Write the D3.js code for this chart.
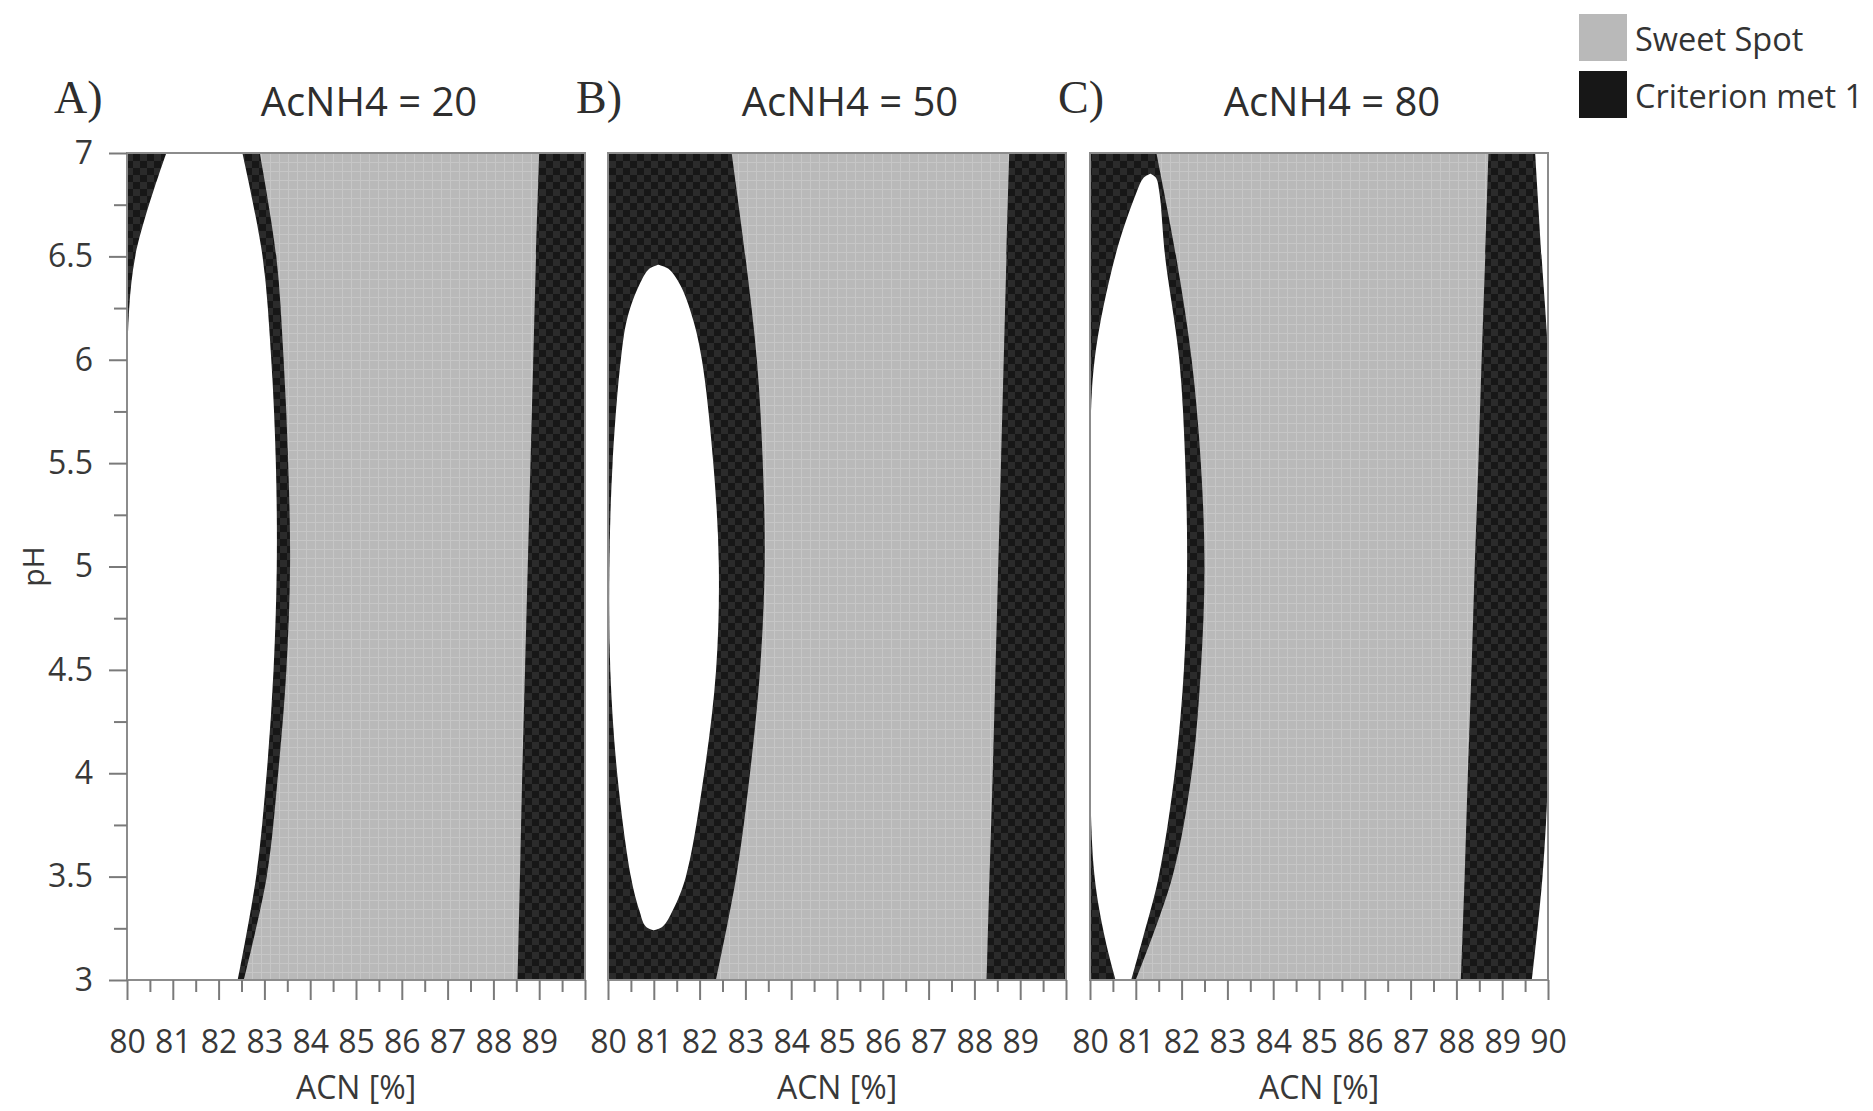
<!DOCTYPE html>
<html>
<head>
<meta charset="utf-8">
<script src="https://cdn.jsdelivr.net/npm/d3@7"></script>
<style>
  body { margin: 0; background: #fff; }
  svg { display: block; }
  .tick text { font-family: "Open Sans", sans-serif; fill: #383838; }
</style>
</head>
<body>
<svg id="chart" width="1873" height="1111"></svg>
<script>
// pH knots used for the band edges (top to bottom)
const phKnots = [7, 6.5, 6, 5.5, 5, 4.5, 4, 3.5, 3];

// Panel A (AcNH4 = 20)
const whiteLoA = [80.86, 80.18, 80, 80, 80, 80, 80, 80, 80];
const whiteHiA = [82.52, 82.96, 83.15, 83.25, 83.27, 83.2, 83.05, 82.82, 82.42];
const sweetLoA = [82.9, 83.26, 83.42, 83.52, 83.56, 83.48, 83.3, 83.05, 82.55];
const sweetHiA = [89.0, 88.93, 88.87, 88.81, 88.75, 88.69, 88.63, 88.58, 88.53];

// Panel B (AcNH4 = 50)
const sweetLoB = [82.7, 83.0, 83.25, 83.38, 83.42, 83.32, 83.1, 82.8, 82.36];
const sweetHiB = [88.76, 88.7, 88.64, 88.58, 88.52, 88.46, 88.4, 88.33, 88.27];
const ellipsePhB = [6.46, 6.44, 6.36, 6.2, 6.0, 5.5, 5.0, 4.5, 4.0, 3.5, 3.34, 3.26, 3.24];
const ellipseLoB = [81.1, 80.9, 80.68, 80.42, 80.28, 80.1, 80.03, 80.05, 80.2, 80.5, 80.68, 80.82, 81.0];
const ellipseHiB = [81.1, 81.32, 81.58, 81.85, 82.05, 82.3, 82.42, 82.36, 82.1, 81.7, 81.42, 81.2, 81.0];

// Panel C (AcNH4 = 80)
const sweetLoC = [81.45, 81.88, 82.22, 82.42, 82.5, 82.42, 82.22, 81.8, 81.0];
const sweetHiC = [88.7, 88.63, 88.55, 88.48, 88.4, 88.33, 88.25, 88.18, 88.1];
const blackEdgeC = [89.72, 89.86, 90, 90, 90, 90, 90, 89.88, 89.65];
const ellipsePhC = [6.9, 6.88, 6.8, 6.5, 6.0, 5.5, 5.0, 4.5, 4.0, 3.5, 3.2, 3.0];
const ellipseLoC = [81.32, 81.17, 81.0, 80.55, 80.1, 80, 80, 80, 80, 80.1, 80.33, 80.56];
const ellipseHiC = [81.32, 81.44, 81.52, 81.64, 81.95, 82.08, 82.12, 82.05, 81.85, 81.5, 81.15, 80.9];

const panelLetters = ["A)", "B)", "C)"];
const acnh4Levels = [20, 50, 80];
const lastLabel = [89, 89, 90];
const legendItems = ["Sweet Spot", "Criterion met 1"];

const svg = d3.select("#chart");
const plotTop = 153, plotBottom = 980, panelW = 458;
const panelLeft = [127, 608, 1090];
const gray = "#b9b9b9", dark = "#171717";
const font = '"Open Sans", sans-serif';

const y = d3.scaleLinear().domain([3, 7]).range([plotBottom, plotTop]);

// textures (cell grid look of the original)
const defs = svg.append("defs");
const gp = defs.append("pattern").attr("id", "grayPat")
    .attr("patternUnits", "userSpaceOnUse").attr("width", 9).attr("height", 9);
gp.append("rect").attr("width", 9).attr("height", 9).attr("fill", gray);
gp.append("path").attr("d", "M0 0.5H9M0.5 0V9").attr("stroke", "#c6c6c6").attr("stroke-width", 1);

const bp = defs.append("pattern").attr("id", "darkPat")
    .attr("patternUnits", "userSpaceOnUse").attr("width", 14).attr("height", 14);
bp.append("rect").attr("width", 14).attr("height", 14).attr("fill", dark);
bp.append("rect").attr("width", 7).attr("height", 7).attr("fill", "#2b2b2b");
bp.append("rect").attr("x", 7).attr("y", 7).attr("width", 7).attr("height", 7).attr("fill", "#2b2b2b");

function band(phs, lo, hi, x) {
    return d3.area()
        .curve(d3.curveCatmullRom.alpha(0.5))
        .y(i => y(phs[i]))
        .x0(i => x(lo[i]))
        .x1(i => x(typeof hi === "number" ? hi : hi[i]))(d3.range(phs.length));
}

const whites = [
    [phKnots, whiteLoA, whiteHiA],
    [ellipsePhB, ellipseLoB, ellipseHiB],
    [ellipsePhC, ellipseLoC, ellipseHiC]
];
const sweets = [[sweetLoA, sweetHiA], [sweetLoB, sweetHiB], [sweetLoC, sweetHiC]];

panelLeft.forEach((left, p) => {
    const x = d3.scaleLinear().domain([80, 90]).range([left, left + panelW]);
    const g = svg.append("g");

    defs.append("clipPath").attr("id", "clip" + p)
        .append("rect").attr("x", left).attr("y", plotTop)
        .attr("width", panelW).attr("height", plotBottom - plotTop);

    const plot = g.append("g").attr("clip-path", `url(#clip${p})`);
    plot.append("rect").attr("x", left).attr("y", plotTop)
        .attr("width", panelW).attr("height", plotBottom - plotTop)
        .attr("fill", "url(#darkPat)");

    const w = whites[p];
    plot.append("path").attr("d", band(w[0], w[1], w[2], x)).attr("fill", "#fff");
    plot.append("path").attr("d", band(phKnots, sweets[p][0], sweets[p][1], x))
        .attr("fill", "url(#grayPat)");
    if (p === 2) {
        plot.append("path").attr("d", band(phKnots, blackEdgeC, 90, x)).attr("fill", "#fff");
    }

    // frame
    g.append("rect").attr("x", left).attr("y", plotTop)
        .attr("width", panelW).attr("height", plotBottom - plotTop)
        .attr("fill", "none").attr("stroke", "#8c8c8c").attr("stroke-width", 2);

    // x axis: minor + major ticks
    const minor = g.append("g").attr("transform", `translate(0,${plotBottom})`)
        .call(d3.axisBottom(x).tickValues(d3.range(80.5, 90, 1)).tickSize(12).tickFormat(""));
    const major = g.append("g").attr("transform", `translate(0,${plotBottom})`)
        .call(d3.axisBottom(x).tickValues(d3.range(80, 90.01, 1)).tickSize(20)
            .tickFormat(d => d <= lastLabel[p] ? d : ""));
    [minor, major].forEach(a => {
        a.select(".domain").remove();
        a.selectAll("line").attr("stroke", "#7a7a7a").attr("stroke-width", 2);
    });
    major.selectAll("text").attr("y", 50).attr("font-size", 32).attr("font-family", font);

    g.append("text").attr("x", x(85)).attr("y", 1099)
        .attr("text-anchor", "middle").attr("font-family", font).attr("font-size", 32)
        .attr("fill", "#383838").text("ACN [%]");

    // panel title and letter
    g.append("text").attr("x", x(85) + 13).attr("y", 116)
        .attr("text-anchor", "middle").attr("font-family", font).attr("font-size", 40)
        .attr("fill", "#2e2e2e").text(`AcNH4 = ${acnh4Levels[p]}`);
    g.append("text").attr("x", p === 0 ? 54 : left - 32).attr("y", 113)
        .attr("font-family", '"Liberation Serif", serif').attr("font-size", 46)
        .attr("fill", "#2e2e2e").text(panelLetters[p]);

    if (p === 0) {
        const yMinor = g.append("g").attr("transform", `translate(${left},0)`)
            .call(d3.axisLeft(y).tickValues(d3.range(3.25, 7, 0.5)).tickSize(13).tickFormat(""));
        const yMajor = g.append("g").attr("transform", `translate(${left},0)`)
            .call(d3.axisLeft(y).tickValues(d3.range(3, 7.01, 0.5)).tickSize(18).tickPadding(16)
                .tickFormat(d3.format("~g")));
        [yMinor, yMajor].forEach(a => {
            a.select(".domain").remove();
            a.selectAll("line").attr("stroke", "#7a7a7a").attr("stroke-width", 2);
        });
        yMajor.selectAll("text").attr("font-size", 32).attr("font-family", font);
        g.append("text").attr("transform", `translate(44,${y(5)}) rotate(-90)`)
            .attr("text-anchor", "middle").attr("font-family", font).attr("font-size", 30)
            .attr("fill", "#383838").text("pH");
    }
});

// legend
const legend = svg.append("g").attr("transform", "translate(1579,14)");
legend.selectAll("rect").data(legendItems).join("rect")
    .attr("x", 0).attr("y", (d, i) => i * 57)
    .attr("width", 48).attr("height", 47)
    .attr("fill", (d, i) => i === 0 ? gray : dark);
legend.selectAll("text").data(legendItems).join("text")
    .attr("x", 56).attr("y", (d, i) => 37 + i * 57)
    .attr("font-family", font).attr("font-size", 32.5).attr("fill", "#333")
    .text(d => d);
</script>
</body>
</html>
